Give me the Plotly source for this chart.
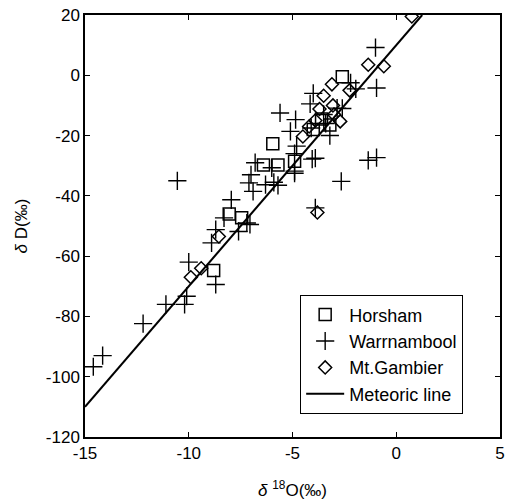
import numpy as np
import plotly.graph_objects as go

# Stable isotope composition of groundwater samples (per mil, VSMOW)
horsham_d18o = [-2.6, -3.6, -3.2, -4.0, -5.95, -4.9, -5.7, -6.4, -8.05, -7.45, -8.8]
horsham_dd = [-0.5, -14.5, -16.5, -18.0, -22.7, -28.5, -29.8, -29.8, -46.0, -47.3, -64.8]

warrnambool_d18o = [-1.0, -2.2, -1.95, -0.95, -4.0, -4.15, -2.85, -2.6, -5.6, -4.85,
                    -5.1, -4.1, -3.4, -4.8, -4.9, -4.05, -3.9, -1.35, -0.95, -2.65,
                    -4.9, -4.9, -5.7, -6.3, -5.9, -6.8, -6.0, -7.0, -7.1, -6.9,
                    -7.95, -8.3, -7.2, -7.6, -7.05, -8.7, -8.9, -3.9, -10.55, -10.0,
                    -8.7, -10.1, -10.2, -11.1, -12.2, -14.15, -14.6, -3.2, -3.5]
warrnambool_dd = [9.2, -2.5, -4.5, -4.2, -6.0, -9.5, -10.9, -11.0, -12.5, -14.7,
                  -18.6, -17.5, -16.0, -23.5, -26.0, -27.8, -27.5, -28.2, -27.3, -35.2,
                  -32.5, -31.8, -36.5, -36.3, -35.5, -29.0, -30.7, -33.0, -35.7, -38.5,
                  -41.3, -47.3, -49.0, -51.8, -49.5, -51.2, -55.6, -44.0, -35.0, -62.0,
                  -69.4, -73.3, -76.0, -76.0, -82.4, -93.0, -96.7, -20.0, -13.0]

gambier_d18o = [0.75, -1.35, -0.6, -3.1, -2.25, -3.5, -3.05, -3.7, -2.7, -4.2,
                -4.5, -3.8, -8.55, -9.4, -9.9, -3.0, -3.9]
gambier_dd = [19.5, 3.5, 3.0, -3.0, -5.0, -6.8, -10.0, -11.2, -15.3, -17.0,
              -20.3, -45.5, -53.5, -64.0, -67.0, -13.0, -15.0]

# Global meteoric water line: dD = slope * d18O + intercept
meteoric_slope = 8.0
meteoric_intercept = 10.0
meteoric_x_range = [-15.0, 1.25]

x_ticks = [-15, -10, -5, 0, 5]
y_ticks = [-120, -100, -80, -60, -40, -20, 0, 20]

font_family = "Liberation Sans, Arial, sans-serif"

fig = go.Figure()

fig.add_trace(go.Scatter(
    x=horsham_d18o, y=horsham_dd, mode="markers", name="Horsham",
    marker=dict(symbol="square-open", size=12, color="black", line=dict(width=1.5)),
))
fig.add_trace(go.Scatter(
    x=warrnambool_d18o, y=warrnambool_dd, mode="markers", name="Warrnambool",
    marker=dict(symbol="cross-thin-open", size=13, color="black", line=dict(width=1.4, color="black")),
))
fig.add_trace(go.Scatter(
    x=gambier_d18o, y=gambier_dd, mode="markers", name="Mt.Gambier",
    marker=dict(symbol="diamond-open", size=10, color="black", line=dict(width=1.5)),
))

mx = np.array(meteoric_x_range)
fig.add_trace(go.Scatter(
    x=mx, y=meteoric_slope * mx + meteoric_intercept, mode="lines", name="Meteoric line",
    line=dict(color="black", width=2),
))

axis_common = dict(
    showline=True, linecolor="black", linewidth=1.5, mirror="ticks",
    ticks="inside", ticklen=5, tickwidth=1.2, tickcolor="black",
    showgrid=False, zeroline=False,
    tickfont=dict(family=font_family, size=17, color="black"),
)

fig.update_xaxes(
    range=[-15, 5], tickvals=x_ticks, ticktext=[str(v) for v in x_ticks],
    title=dict(text="<i>δ</i> <sup>18</sup>O(‰)", font=dict(family=font_family, size=17, color="black"), standoff=22),
    **axis_common,
)
fig.update_yaxes(
    range=[-120, 20], tickvals=y_ticks, ticktext=[str(v) for v in y_ticks],
    title=dict(text="<i>δ</i> D(‰)", font=dict(family=font_family, size=17, color="black"), standoff=14),
    **axis_common,
)

fig.update_layout(
    width=510, height=503,
    margin=dict(l=85, r=5, t=15, b=66),
    paper_bgcolor="white", plot_bgcolor="white",
    font=dict(family=font_family, size=17, color="black"),
    legend=dict(
        x=0.518, y=0.336, xanchor="left", yanchor="top",
        bgcolor="white", bordercolor="black", borderwidth=1.2,
        font=dict(family=font_family, size=18, color="black"),
        tracegroupgap=0, itemwidth=38,
    ),
    showlegend=True,
)

fig.write_html("out.html")
